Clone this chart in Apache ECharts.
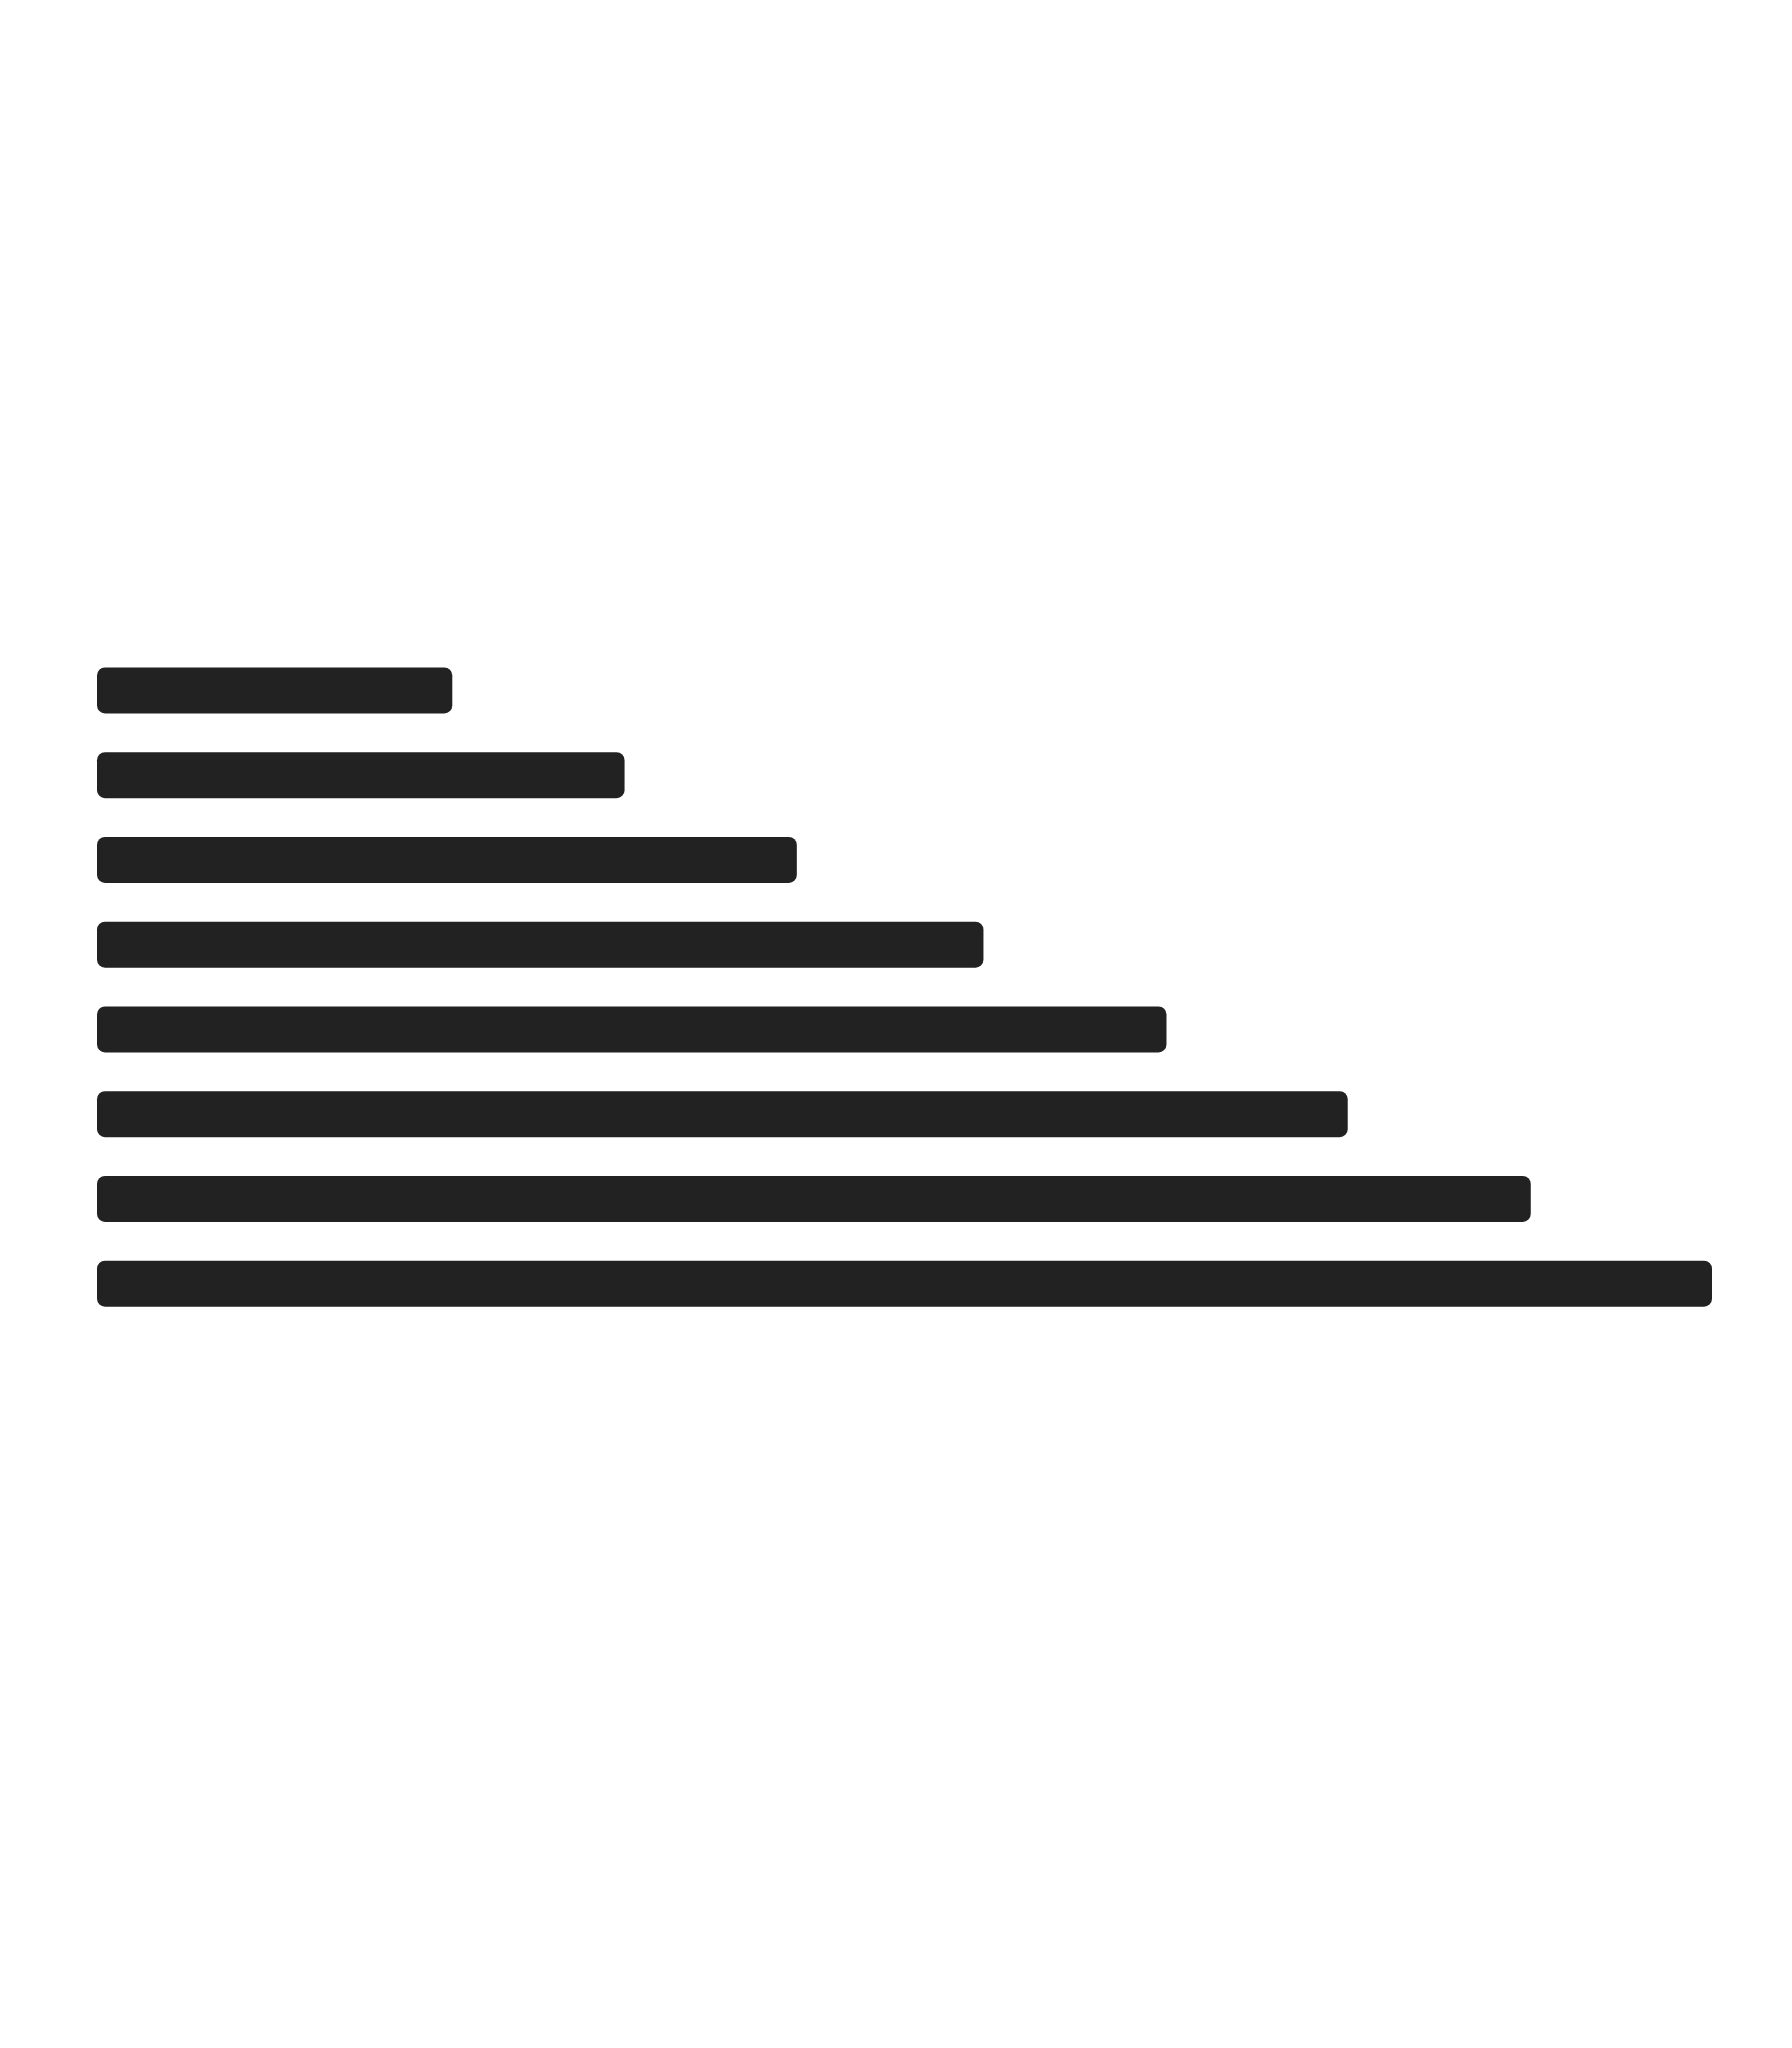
<!DOCTYPE html>
<html>
<head>
<meta charset="utf-8">
<script src="https://cdn.jsdelivr.net/npm/echarts@6/dist/echarts.min.js"></script>
<style>
html,body{margin:0;padding:0;background:#ffffff;}
#chart{width:1792px;height:2048px;}
</style>
</head>
<body>
<div id="chart"></div>
<script>
const categories = ['1', '2', '3', '4', '5', '6', '7', '8'];
const values = [1.98, 2.94, 3.90, 4.94, 5.96, 6.97, 7.99, 9.0];

const chart = echarts.init(document.getElementById('chart'), null, {renderer: 'canvas'});
chart.setOption({
  backgroundColor: '#ffffff',
  animation: false,
  grid: {left: 97, right: 80, top: 648, bottom: 722, containLabel: false},
  xAxis: {
    type: 'value', min: 0, max: 9,
    axisLine: {show: false}, axisTick: {show: false},
    axisLabel: {show: false}, splitLine: {show: false}
  },
  yAxis: {
    type: 'category', data: categories, inverse: true,
    axisLine: {show: false}, axisTick: {show: false},
    axisLabel: {show: false}
  },
  series: [{
    type: 'bar',
    data: values,
    barWidth: 46,
    itemStyle: {color: '#222222', borderRadius: 8}
  }]
});
</script>
</body>
</html>
